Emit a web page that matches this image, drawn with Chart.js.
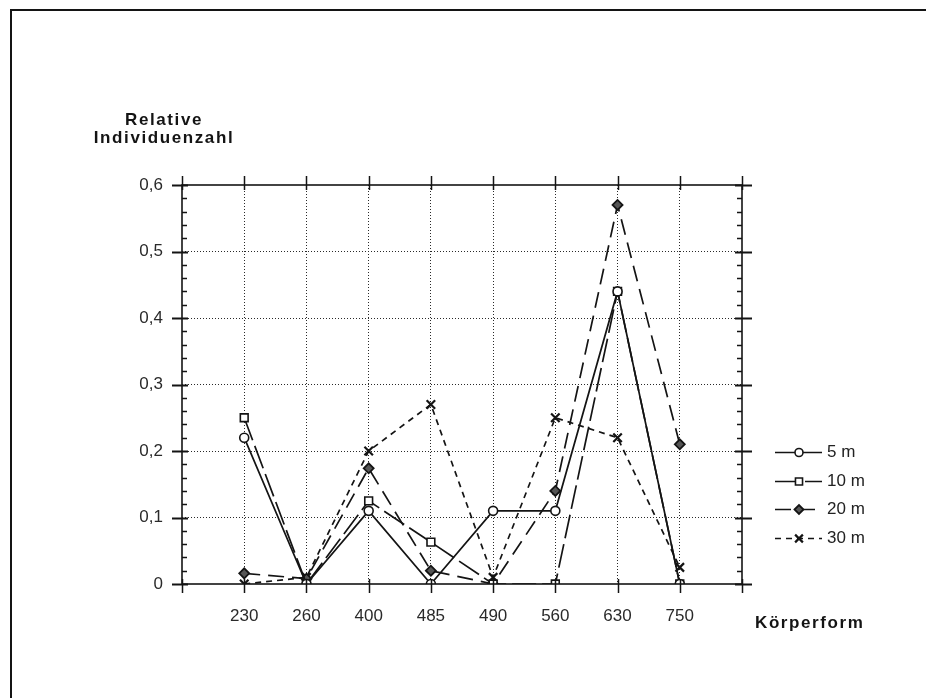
<!DOCTYPE html>
<html>
<head>
<meta charset="utf-8">
<title>Relative Individuenzahl nach Körperform</title>
<script src="https://cdn.jsdelivr.net/npm/chart.js@4/dist/chart.umd.min.js"></script>
<style>
  html, body { margin: 0; padding: 0; background: #fff; }
  #wrap { width: 926px; height: 698px; }
</style>
</head>
<body>
<div id="wrap"><canvas id="c" width="926" height="698"></canvas></div>
<script>
// Körperform classes on the x axis
const categories = ['230', '260', '400', '485', '490', '560', '630', '750'];

// Relative number of individuals per depth
const depth5  = [0.22, 0, 0.11, 0, 0.11, 0.11, 0.44, 0];
const depth10 = [0.25, 0, 0.125, 0.063, 0, 0, 0.44, 0];
const depth20 = [0.016, 0.008, 0.174, 0.02, 0, 0.14, 0.57, 0.21];
const depth30 = [0, 0.01, 0.2, 0.27, 0.01, 0.25, 0.22, 0.025];

const seriesLabels = ['5 m', '10 m', '20 m', '30 m'];
const yTickLabels = ['0', '0,1', '0,2', '0,3', '0,4', '0,5', '0,6'];

const INK = '#141414';

function toPoints(values) {
  return values.map((v, i) => ({ x: i + 1, y: v }));
}

const datasets = [
  { label: seriesLabels[0], data: toPoints(depth5),  borderDash: [],      pointStyle: 'circle',   pointRadius: 4.5, pointBackgroundColor: '#fff', pointBorderWidth: 1.6 },
  { label: seriesLabels[1], data: toPoints(depth10), borderDash: [24, 6], pointStyle: 'rect',     pointRadius: 5.5, pointBackgroundColor: '#fff', pointBorderWidth: 1.6 },
  { label: seriesLabels[2], data: toPoints(depth20), borderDash: [16, 8], pointStyle: 'rectRot',  pointRadius: 5,   pointBackgroundColor: '#555', pointBorderWidth: 1.8 },
  { label: seriesLabels[3], data: toPoints(depth30), borderDash: [6, 5],  pointStyle: 'crossRot', pointRadius: 6,   pointBackgroundColor: INK,    pointBorderWidth: 2.2 }
].map(d => Object.assign({
  borderColor: INK,
  borderWidth: 1.7,
  pointBorderColor: INK,
  tension: 0,
  fill: false
}, d));

// Frame, tick marks, axis titles and legend
const decorations = {
  id: 'decorations',
  afterDraw(chart) {
    const ctx = chart.ctx;
    const area = chart.chartArea;
    const xs = chart.scales.x;
    const ys = chart.scales.y;
    ctx.save();
    ctx.strokeStyle = INK;
    ctx.fillStyle = INK;
    ctx.lineCap = 'butt';

    // outer page frame (top and left edges)
    ctx.lineWidth = 2;
    ctx.beginPath();
    ctx.moveTo(11, 698); ctx.lineTo(11, 10); ctx.lineTo(926, 10);
    ctx.stroke();

    // plot box
    ctx.lineWidth = 1.6;
    ctx.strokeRect(area.left, area.top, area.right - area.left, area.bottom - area.top);

    // x tick marks crossing top and bottom edges
    ctx.lineWidth = 1.5;
    for (let v = 0; v <= categories.length + 1; v++) {
      const px = Math.round(xs.getPixelForValue(v)) + 0.5;
      ctx.beginPath();
      ctx.moveTo(px, area.top - 9); ctx.lineTo(px, area.top + 5);
      ctx.moveTo(px, area.bottom - 5); ctx.lineTo(px, area.bottom + 9);
      ctx.stroke();
    }

    // y major and minor tick marks on both sides
    for (let k = 0; k <= 30; k++) {
      const v = k * 0.02;
      const py = Math.round(ys.getPixelForValue(v)) + 0.5;
      ctx.beginPath();
      if (k % 5 === 0) {
        ctx.lineWidth = 1.8;
        ctx.moveTo(area.left - 10, py); ctx.lineTo(area.left + 6, py);
        ctx.moveTo(area.right - 7, py); ctx.lineTo(area.right + 10, py);
      } else {
        ctx.lineWidth = 1.3;
        ctx.moveTo(area.left, py); ctx.lineTo(area.left + 5, py);
        ctx.moveTo(area.right - 5, py); ctx.lineTo(area.right, py);
      }
      ctx.stroke();
    }

    // axis titles
    ctx.font = 'bold 17px "Liberation Sans", Arial, sans-serif';
    ctx.letterSpacing = '1.6px';
    ctx.textAlign = 'center';
    ctx.textBaseline = 'alphabetic';
    ctx.fillText('Relative', 164, 125);
    ctx.fillText('Individuenzahl', 164, 143);
    ctx.textAlign = 'left';
    ctx.fillText('Körperform', 755, 628);
    ctx.letterSpacing = '0px';

    // legend
    const lx0 = 775, lx1 = 822, mx = 799;
    chart.data.datasets.forEach((ds, i) => {
      const y = Math.round(452 + i * 28.7) + 0.5;
      ctx.strokeStyle = INK;
      ctx.lineWidth = ds.borderWidth;
      ctx.setLineDash(ds.borderDash);
      ctx.beginPath();
      ctx.moveTo(lx0, y); ctx.lineTo(lx1, y);
      ctx.stroke();
      ctx.setLineDash([]);
      ctx.fillStyle = ds.pointBackgroundColor;
      ctx.lineWidth = ds.pointBorderWidth;
      Chart.helpers.drawPoint(ctx, {
        pointStyle: ds.pointStyle,
        radius: ds.pointRadius - 0.5,
        rotation: 0,
        borderWidth: ds.pointBorderWidth
      }, mx, y);
      ctx.fillStyle = '#222';
      ctx.font = '17px "Liberation Sans", Arial, sans-serif';
      ctx.textAlign = 'left';
      ctx.textBaseline = 'middle';
      ctx.fillText(ds.label, 827, y);
    });

    ctx.restore();
  }
};

const gridColor = (edgeA, edgeB) => (c) =>
  (c.tick && (Math.abs(c.tick.value - edgeA) < 1e-9 || Math.abs(c.tick.value - edgeB) < 1e-9))
    ? 'rgba(0,0,0,0)' : '#2a2a2a';

new Chart(document.getElementById('c'), {
  type: 'line',
  data: { datasets },
  plugins: [decorations],
  options: {
    responsive: false,
    animation: false,
    devicePixelRatio: 1,
    layout: { padding: { top: 185, right: 184, bottom: 0, left: 0 } },
    plugins: {
      legend: { display: false },
      tooltip: { enabled: false },
      title: { display: false }
    },
    scales: {
      x: {
        type: 'linear',
        min: 0,
        max: categories.length + 1,
        afterFit: (s) => { s.height = 114; },
        grid: { color: gridColor(0, categories.length + 1), lineWidth: 1, drawTicks: false },
        border: { display: false, dash: [1, 2] },
        ticks: {
          stepSize: 1,
          autoSkip: false,
          maxRotation: 0,
          padding: 22,
          color: '#2a2a2a',
          font: { family: '"Liberation Sans", Arial, sans-serif', size: 17 },
          callback: (v) => categories[v - 1] ?? ''
        }
      },
      y: {
        min: 0,
        max: 0.6,
        afterFit: (s) => { s.width = 182; },
        grid: { color: gridColor(0, 0.6), lineWidth: 1, drawTicks: false },
        border: { display: false, dash: [1, 2] },
        ticks: {
          stepSize: 0.1,
          padding: 19,
          color: '#2a2a2a',
          font: { family: '"Liberation Sans", Arial, sans-serif', size: 17 },
          callback: (v) => yTickLabels[Math.round(v * 10)] ?? ''
        }
      }
    }
  }
});
</script>
</body>
</html>
